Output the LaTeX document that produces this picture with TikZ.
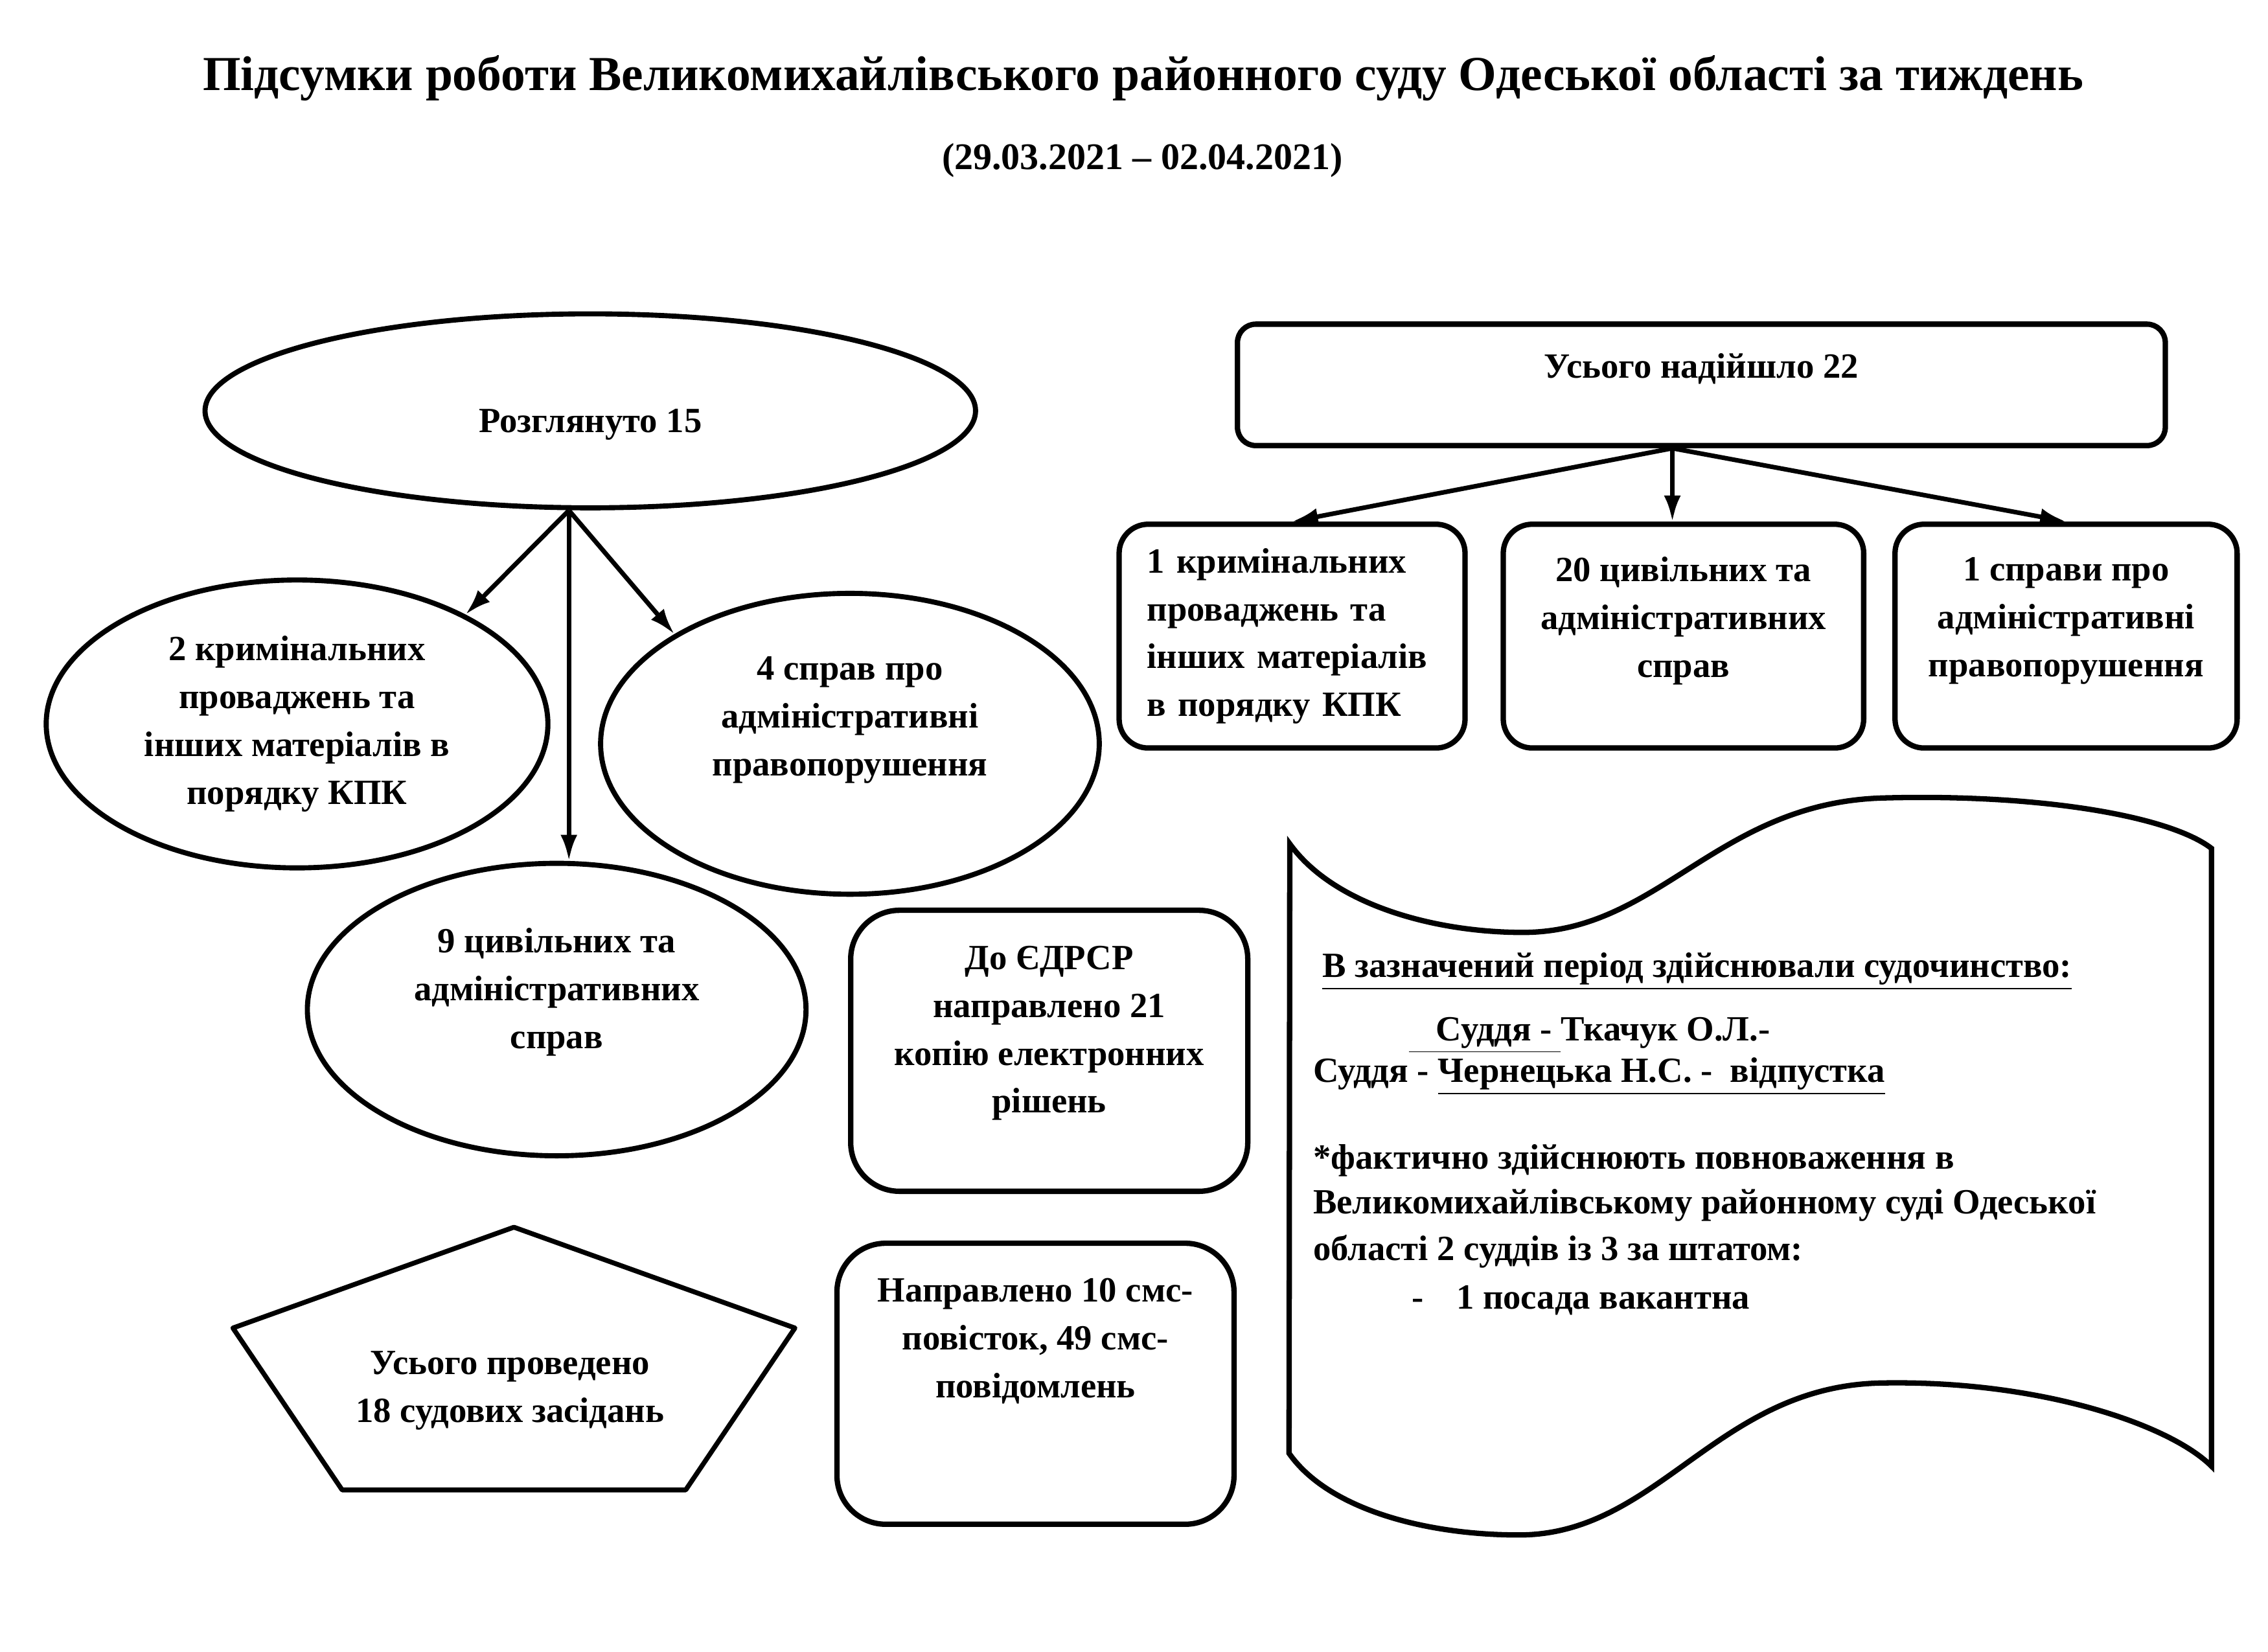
\documentclass[tikz,border=0pt]{standalone}
\usepackage{fontspec}
\setmainfont{Liberation Serif}
\usetikzlibrary{arrows.meta,positioning,shapes.geometric}

\begin{document}
\begin{tikzpicture}[
        x=1mm, y=1mm,
        font=\bfseries\fontsize{13.2}{17.8}\selectfont,
        >={Latex[length=3.4mm,width=2.2mm]},
        oval/.style={draw, ellipse, line width=1.9pt, align=center, inner sep=0pt},
        box/.style={draw, rounded corners=3.8mm, line width=2pt, align=center, inner sep=0pt},
        txt/.style={align=center, inner sep=0pt},
        link/.style={->, line width=1.7pt}
    ]
    \useasboundingbox (0,0) rectangle (297,216.3);

    % heading
    \node (title) at (149.7,206.1) {\fontsize{18.2}{22}\selectfont Підсумки роботи Великомихайлівського районного суду Одеської області за тиждень};
    \node (period) at (149.6,195.3) {\fontsize{14}{17}\selectfont (29.03.2021 -- 02.04.2021)};

    % considered cases
    \node[oval, minimum width=100.9mm, minimum height=25.4mm] (rev) at (77.3,162.5) {};
    \node[txt] (rev-text) at ([yshift=-1.8mm]rev.center) {Розглянуто 15};
    \node[oval, minimum width=65.7mm, minimum height=37.7mm] (crim) at (38.9,121.5) {2 кримінальних\\проваджень та\\інших матеріалів в\\порядку КПК};
    \node[oval, minimum width=65.3mm, minimum height=39.4mm] (admin) at (111.3,118.9) {};
    \node[txt] (admin-text) at ([yshift=3.1mm]admin.center) {4 справ про\\адміністративні\\правопорушення};
    \node[oval, minimum width=65.3mm, minimum height=38.3mm] (civil) at (72.9,84.1) {};
    \node[txt] (civil-text) at ([yshift=2.3mm]civil.center) {9 цивільних та\\адміністративних\\справ};

    \coordinate (revout) at ([xshift=-2.8mm]rev.south);
    \draw[link] (revout) -- (crim.33);
    \draw[link] (revout) -- (revout |- civil.north);
    \draw[link] (revout) -- (admin.148);

    % received cases
    \node[box, rounded corners=2.4mm, minimum width=121.5mm, minimum height=15.9mm] (total) at (222.8,165.9) {};
    \node[txt] (total-text) at ([yshift=2.1mm]total.center) {Усього надійшло 22};
    \node[box, minimum width=45.3mm, minimum height=29.3mm, text width=38mm, align=left] (crim22) at (169.2,133.0) {1 кримінальних\\проваджень та\\інших матеріалів\\в порядку КПК};
    \node[box, minimum width=47.2mm, minimum height=29.3mm, right=4.3mm of crim22] (civil22) {};
    \node[txt] (civil22-text) at ([yshift=2mm]civil22.center) {20 цивільних та\\адміністративних\\справ};
    \node[box, minimum width=44.8mm, minimum height=29.3mm, right=3.4mm of civil22] (admin22) {};
    \node[txt] (admin22-text) at ([yshift=2mm]admin22.center) {1 справи про\\адміністративні\\правопорушення};

    \coordinate (totalout) at ([xshift=-3.8mm]total.south);
    \draw[link] (totalout) -- (crim22.north);
    \draw[link] (totalout) -- (totalout |- civil22.north);
    \draw[link] (totalout) -- (admin22.north);

    % other figures
    \node[box, rounded corners=6.4mm, minimum width=52mm, minimum height=36.8mm] (edrsr) at (137.4,78.7) {};
    \node[txt] (edrsr-text) at ([yshift=2.3mm]edrsr.center) {До ЄДРСР\\направлено 21\\копію електронних\\рішень};
    \node[box, rounded corners=6.4mm, minimum width=52mm, minimum height=36.8mm] (sms) at (135.6,35.1) {};
    \node[txt] (sms-text) at ([yshift=5.6mm]sms.center) {Направлено 10 смс-\\повісток, 49 смс-\\повідомлень};

    \draw[line width=1.8pt, line join=round] (67.3,55.6) -- (104.1,42.4) -- (89.8,21.2) -- (44.8,21.2) -- (30.5,42.4) -- cycle;
    \node[txt] (sessions) at (66.8,34.2) {Усього проведено\\18 судових засідань};

    % judges scroll
    \draw[line width=2pt] (168.9,105.8) .. controls (174.8,97.6) and (188.3,94.2) .. (199.4,94.2)
        .. controls (217.2,94.2) and (224.8,111.1) .. (246.4,111.8)
        .. controls (267.2,112.4) and (284.2,109.4) .. (289.6,105.2) -- (289.6,24.3)
        .. controls (284.2,29.7) and (267.2,35.6) .. (246.4,35.2)
        .. controls (224.8,34.8) and (217.2,15.3) .. (198.9,15.3)
        .. controls (186.6,15.3) and (173.9,18.7) .. (168.8,26.0) -- cycle;
    \node[anchor=north west, align=left, inner sep=0pt, font=\bfseries\fontsize{13.2}{16.5}\selectfont] (judges) at (171.9,91.6) {%
        \hspace*{1.2mm}\underline{В зазначений період здійснювали судочинство:}\\[7pt]
        \hspace*{12.5mm}\underline{\hspace*{3.6mm}Суддя - }Ткачук О.Л.-\\[-1pt]
        Суддя - \underline{Чернецька Н.С. -\ \ відпустка}\\[16pt]
        *фактично здійснюють повноваження в\\
        Великомихайлівському районному суді Одеської\\[1pt]
        області 2 суддів із 3 за штатом:\\[1.5pt]
        \hspace*{12.9mm}-\hspace*{4.3mm}1 посада вакантна};
\end{tikzpicture}
\end{document}
